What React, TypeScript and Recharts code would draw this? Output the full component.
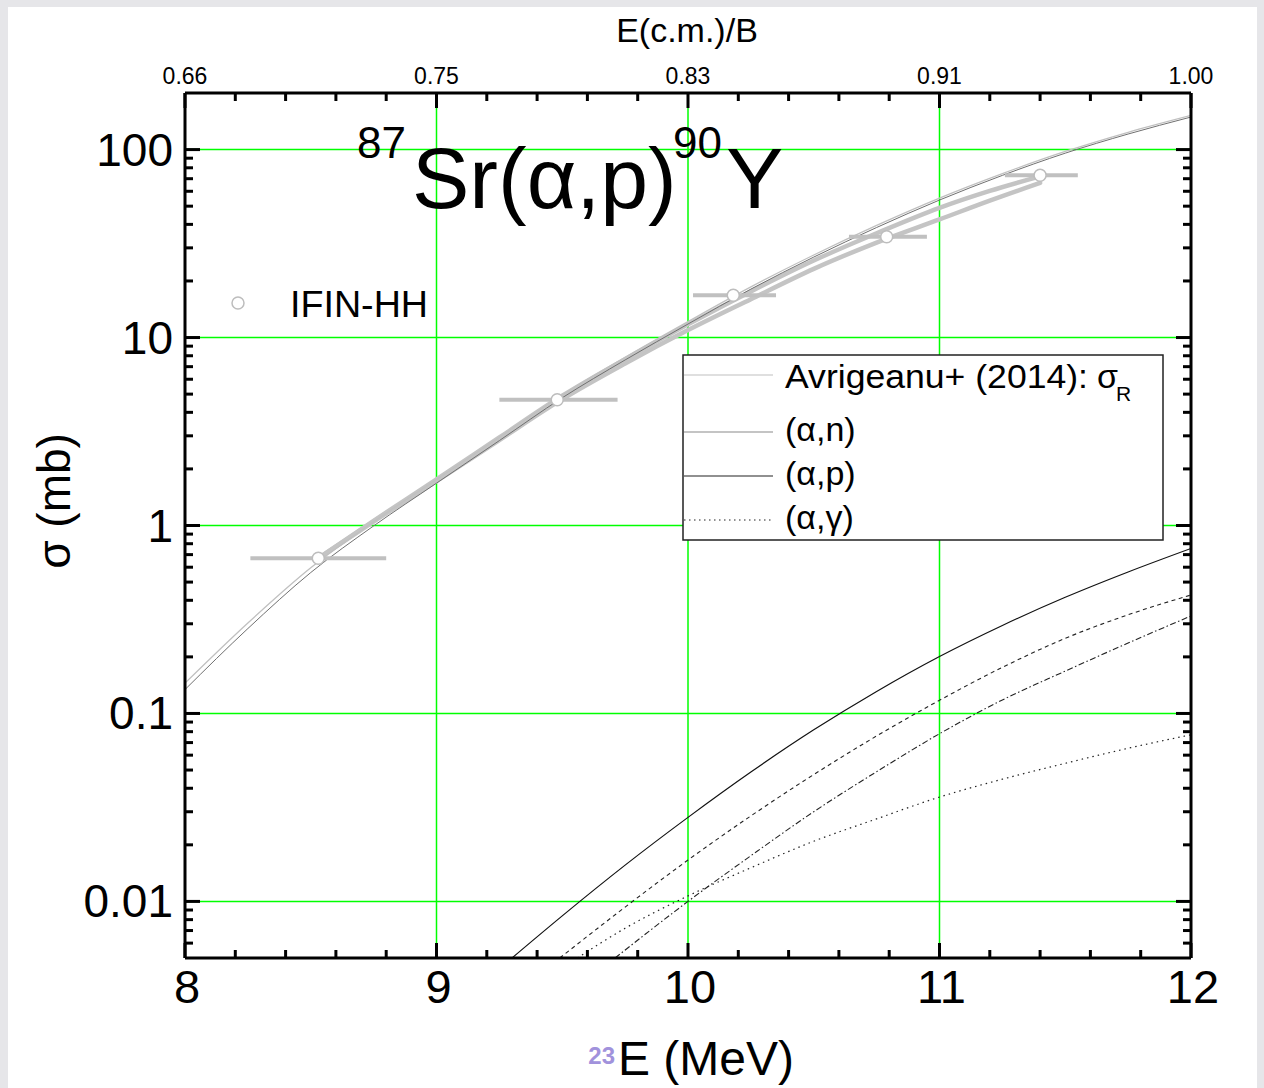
import React from "react";
import {
  ComposedChart,
  Line,
  Scatter,
  ErrorBar,
  XAxis,
  YAxis,
  ReferenceLine,
} from "recharts";

const FONT = '"Liberation Sans", Arial, sans-serif';

// axis ticks
const majorE = [8, 9, 10, 11, 12];
const minorE = [
  8.2, 8.4, 8.6, 8.8, 9.2, 9.4, 9.6, 9.8, 10.2, 10.4, 10.6, 10.8, 11.2, 11.4,
  11.6, 11.8,
];
const topLabels = ["0.66", "0.75", "0.83", "0.91", "1.00"];
const majorSigma = [0.01, 0.1, 1, 10, 100];
const sigmaLabels = ["0.01", "0.1", "1", "10", "100"];
const minorSigma = [
  0.006, 0.007, 0.008, 0.009, 0.02, 0.03, 0.04, 0.05, 0.06, 0.07, 0.08, 0.09,
  0.2, 0.3, 0.4, 0.5, 0.6, 0.7, 0.8, 0.9, 2, 3, 4, 5, 6, 7, 8, 9, 20, 30, 40,
  50, 60, 70, 80, 90,
];

// Avrigeanu+ (2014) reaction cross section and (a,n)
const calcE = [
  8, 8.25, 8.5, 8.75, 9, 9.25, 9.5, 9.75, 10, 10.25, 10.5, 10.75, 11, 11.25,
  11.5, 11.75, 12,
];
const sigmaR = [
  0.145, 0.303, 0.596, 1.047, 1.758, 2.95, 4.95, 7.85, 12.16, 18.6, 27.5, 39.5,
  55.2, 74.5, 97.7, 123.6, 152,
];
const alphaN = [
  0.134, 0.283, 0.562, 0.995, 1.68, 2.83, 4.78, 7.6, 11.8, 18.1, 26.8, 38.5,
  53.9, 72.9, 95.7, 121, 149,
];

// thick grey curves through the data
const bandE = [8.53, 8.75, 9, 9.25, 9.5, 9.75, 10, 10.25, 10.5, 10.75, 11, 11.2, 11.4];
const bandUpper = [0.67, 1.06, 1.76, 2.94, 4.9, 7.67, 11.75, 17.6, 25.7, 35.9, 49, 60.3, 72];
const bandLower = [0.67, 1.05, 1.72, 2.85, 4.7, 7.28, 10.96, 16.0, 23.2, 32.0, 42.5, 53.5, 66.5];

// (a,p) solid
const apE = [9.3, 9.5, 9.75, 10, 10.25, 10.5, 10.75, 11, 11.25, 11.5, 11.75, 12];
const apSigma = [0.005, 0.00838, 0.0156, 0.028, 0.0488, 0.0818, 0.131, 0.201, 0.294, 0.415, 0.566, 0.755];

// dashed
const dashE = [9.49, 9.75, 10, 10.25, 10.5, 10.75, 11, 11.25, 11.5, 11.75, 12];
const dashSigma = [0.005, 0.00933, 0.0166, 0.0285, 0.0473, 0.0759, 0.1175, 0.176, 0.251, 0.335, 0.427];

// dash-dot
const dashDotE = [9.71, 10, 10.25, 10.5, 10.75, 11, 11.25, 11.5, 11.75, 12];
const dashDotSigma = [0.005, 0.01, 0.0175, 0.03, 0.049, 0.078, 0.118, 0.168, 0.237, 0.33];

// (a,g) dotted
const agE = [9.56, 9.75, 10, 10.25, 10.5, 10.75, 11, 11.25, 11.5, 11.75, 12];
const agSigma = [0.005, 0.0072, 0.0107, 0.0151, 0.0209, 0.0275, 0.0359, 0.0447, 0.0543, 0.0653, 0.077];

// IFIN-HH data
const expE = [8.53, 9.48, 10.18, 10.79, 11.4];
const expSigma = [0.67, 4.67, 16.8, 34.4, 73];
const expELow = [8.26, 9.25, 10.02, 10.64, 11.26];
const expEHigh = [8.8, 9.72, 10.35, 10.95, 11.55];

const toPts = (xs: number[], ys: number[]) => xs.map((x, i) => ({ x, y: ys[i] }));

const expData = expE.map((x, i) => ({
  x,
  y: expSigma[i],
  ex: [x - expELow[i], expEHigh[i] - x],
}));

const allE = [...majorE, ...minorE];
const allSigma = [...majorSigma, ...minorSigma];

const findMajor = (list: number[], v: number) =>
  list.findIndex((m) => Math.abs(m - v) / m < 1e-6);

// ticks point into the plot; tickSize is 0 so x/y = axis line -/+ margin
const makeTick =
  (side: "left" | "right" | "top" | "bottom", margin: number) => (p: any) => {
    const v = p.payload.value;
    const isY = side === "left" || side === "right";
    const idx = findMajor(isY ? majorSigma : majorE, v);
    const len = idx >= 0 ? 15 : 8;
    const st = { stroke: "#000", strokeWidth: 3 };
    if (side === "left") {
      const x0 = p.x + margin;
      return (
        <g>
          <line x1={x0} x2={x0 + len} y1={p.y} y2={p.y} {...st} />
          {idx >= 0 && (
            <text x={p.x} y={p.y + 16} textAnchor="end" fontSize={46} fontFamily={FONT} fill="#000">
              {sigmaLabels[idx]}
            </text>
          )}
        </g>
      );
    }
    if (side === "right") {
      const x0 = p.x - margin;
      return <line x1={x0} x2={x0 - len} y1={p.y} y2={p.y} {...st} />;
    }
    if (side === "bottom") {
      const y0 = p.y - margin;
      return (
        <g>
          <line x1={p.x} x2={p.x} y1={y0} y2={y0 - len} {...st} />
          {idx >= 0 && (
            <text x={p.x + 2} y={p.y + 33} textAnchor="middle" fontSize={47} fontFamily={FONT} fill="#000">
              {majorE[idx]}
            </text>
          )}
        </g>
      );
    }
    const y0 = p.y + margin;
    return (
      <g>
        <line x1={p.x} x2={p.x} y1={y0} y2={y0 + len} {...st} />
        {idx >= 0 && (
          <text x={p.x} y={p.y} textAnchor="middle" fontSize={23} fontFamily={FONT} fill="#000">
            {topLabels[idx]}
          </text>
        )}
      </g>
    );
  };

const axisLine = { stroke: "#000", strokeWidth: 3 };
const GREEN = "#00ff00";

const Circle = (p: any) => (
  <circle cx={p.cx} cy={p.cy} r={6} fill="#fff" stroke="#bdbdbd" strokeWidth={1.5} />
);

const Legend = () => (
  <g fontFamily={FONT} fill="#000">
    <rect x={683} y={355} width={480} height={185} fill="#fff" stroke="#222" strokeWidth={1.5} />
    <line x1={684} x2={773} y1={375} y2={375} stroke="#c0c0c0" strokeWidth={1.2} />
    <line x1={684} x2={773} y1={432} y2={432} stroke="#8a8a8a" strokeWidth={1.2} />
    <line x1={684} x2={773} y1={476} y2={476} stroke="#222" strokeWidth={1.2} />
    <line x1={684} x2={773} y1={520} y2={520} stroke="#222" strokeWidth={1.2} strokeDasharray="1.5 3.5" />
    <text x={785} y={388} fontSize={34} textLength={303} lengthAdjust="spacingAndGlyphs">
      Avrigeanu+ (2014):
    </text>
    <text x={1097} y={388} fontSize={34}>σ</text>
    <text x={1116} y={401} fontSize={21}>R</text>
    <text x={785} y={441} fontSize={34}>(α,n)</text>
    <text x={785} y={485} fontSize={34}>(α,p)</text>
    <text x={785} y={529} fontSize={34}>(α,γ)</text>
  </g>
);

const App = () => {
  return (
    <div
      style={{
        position: "absolute",
        left: 0,
        top: 0,
        width: 1264,
        height: 1088,
        background: "#e6e6e9",
        overflow: "hidden",
      }}
    >
      <div style={{ position: "absolute", left: 8, top: 7, width: 1249, height: 1081, background: "#fff" }} />
      <div style={{ position: "absolute", left: 0, top: 0 }}>
        <ComposedChart width={1264} height={1088} margin={{ top: 63, right: 53, bottom: 80, left: 85 }}>
          <XAxis
            xAxisId="b"
            type="number"
            dataKey="x"
            domain={[8, 12]}
            allowDataOverflow
            ticks={allE}
            interval={0}
            tickLine={false}
            tickSize={0}
            tickMargin={12}
            axisLine={axisLine}
            height={50}
            tick={makeTick("bottom", 12)}
          />
          <XAxis
            xAxisId="t"
            orientation="top"
            type="number"
            dataKey="x"
            domain={[8, 12]}
            allowDataOverflow
            ticks={allE}
            interval={0}
            tickLine={false}
            tickSize={0}
            tickMargin={9}
            axisLine={axisLine}
            height={30}
            tick={makeTick("top", 9)}
          />
          <YAxis
            yAxisId="l"
            type="number"
            scale="log"
            domain={[0.005, 200]}
            allowDataOverflow
            ticks={allSigma}
            interval={0}
            tickLine={false}
            tickSize={0}
            tickMargin={12}
            axisLine={axisLine}
            width={100}
            tick={makeTick("left", 12)}
          />
          <YAxis
            yAxisId="r"
            orientation="right"
            type="number"
            scale="log"
            domain={[0.005, 200]}
            allowDataOverflow
            ticks={allSigma}
            interval={0}
            tickLine={false}
            tickSize={0}
            tickMargin={6}
            axisLine={axisLine}
            width={20}
            tick={makeTick("right", 6)}
          />

          {majorE.slice(1, 4).map((v) => (
            <ReferenceLine key={"vx" + v} xAxisId="b" yAxisId="l" x={v} stroke={GREEN} strokeWidth={1.5} />
          ))}
          {majorSigma.map((v) => (
            <ReferenceLine key={"hy" + v} xAxisId="b" yAxisId="l" y={v} stroke={GREEN} strokeWidth={1.5} />
          ))}

          <Line
            xAxisId="t"
            yAxisId="r"
            data={toPts(calcE, sigmaR)}
            dataKey="y"
            stroke="none"
            dot={false}
            isAnimationActive={false}
          />
          <Line
            xAxisId="b"
            yAxisId="l"
            data={toPts(bandE, bandUpper)}
            dataKey="y"
            type="monotone"
            stroke="#c4c4c4"
            strokeWidth={4.5}
            strokeLinecap="round"
            dot={false}
            isAnimationActive={false}
          />
          <Line
            xAxisId="b"
            yAxisId="l"
            data={toPts(bandE, bandLower)}
            dataKey="y"
            type="monotone"
            stroke="#c4c4c4"
            strokeWidth={4.5}
            strokeLinecap="round"
            dot={false}
            isAnimationActive={false}
          />
          <Line
            xAxisId="b"
            yAxisId="l"
            data={toPts(calcE, sigmaR)}
            dataKey="y"
            type="monotone"
            stroke="#c0c0c0"
            strokeWidth={1.3}
            dot={false}
            isAnimationActive={false}
          />
          <Line
            xAxisId="b"
            yAxisId="l"
            data={toPts(calcE, alphaN)}
            dataKey="y"
            type="monotone"
            stroke="#707070"
            strokeWidth={1}
            dot={false}
            isAnimationActive={false}
          />
          <Line
            xAxisId="b"
            yAxisId="l"
            data={toPts(apE, apSigma)}
            dataKey="y"
            type="monotone"
            stroke="#111"
            strokeWidth={1.2}
            dot={false}
            isAnimationActive={false}
          />
          <Line
            xAxisId="b"
            yAxisId="l"
            data={toPts(dashE, dashSigma)}
            dataKey="y"
            type="monotone"
            stroke="#222"
            strokeWidth={1.1}
            strokeDasharray="4 3.5"
            dot={false}
            isAnimationActive={false}
          />
          <Line
            xAxisId="b"
            yAxisId="l"
            data={toPts(dashDotE, dashDotSigma)}
            dataKey="y"
            type="monotone"
            stroke="#222"
            strokeWidth={1.1}
            strokeDasharray="6 2.5 1.5 2.5"
            dot={false}
            isAnimationActive={false}
          />
          <Line
            xAxisId="b"
            yAxisId="l"
            data={toPts(agE, agSigma)}
            dataKey="y"
            type="monotone"
            stroke="#222"
            strokeWidth={1.2}
            strokeDasharray="1.5 4"
            dot={false}
            isAnimationActive={false}
          />
          <Scatter
            xAxisId="b"
            yAxisId="l"
            data={expData}
            dataKey="y"
            shape={Circle}
            isAnimationActive={false}
          >
            <ErrorBar dataKey="ex" direction="x" width={0} stroke="#c0c0c0" strokeWidth={4} />
          </Scatter>
        </ComposedChart>
      </div>

      <svg
        width={1264}
        height={1088}
        style={{ position: "absolute", left: 0, top: 0, pointerEvents: "none" }}
        fontFamily={FONT}
      >
        <text x={687} y={42} fontSize={34} textAnchor="middle">E(c.m.)/B</text>
        <text x={706} y={1075} fontSize={48} textAnchor="middle">E (MeV)</text>
        <text transform="translate(70 501) rotate(-90)" fontSize={46} textAnchor="middle">σ (mb)</text>

        <text x={357} y={158} fontSize={44}>87</text>
        <text x={412} y={208} fontSize={86}>Sr(α,p)</text>
        <text x={673} y={158} fontSize={44}>90</text>
        <text x={726} y={208} fontSize={86}>Y</text>

        <circle cx={238} cy={303} r={6} fill="#fff" stroke="#bdbdbd" strokeWidth={1.5} />
        <text x={290} y={317} fontSize={36} textLength={138} lengthAdjust="spacingAndGlyphs">IFIN-HH</text>

        <Legend />

        <text x={615} y={1064} fontSize={24} fontWeight="bold" fill="#a192dc" textAnchor="end">23</text>
      </svg>
    </div>
  );
};

export default App;
